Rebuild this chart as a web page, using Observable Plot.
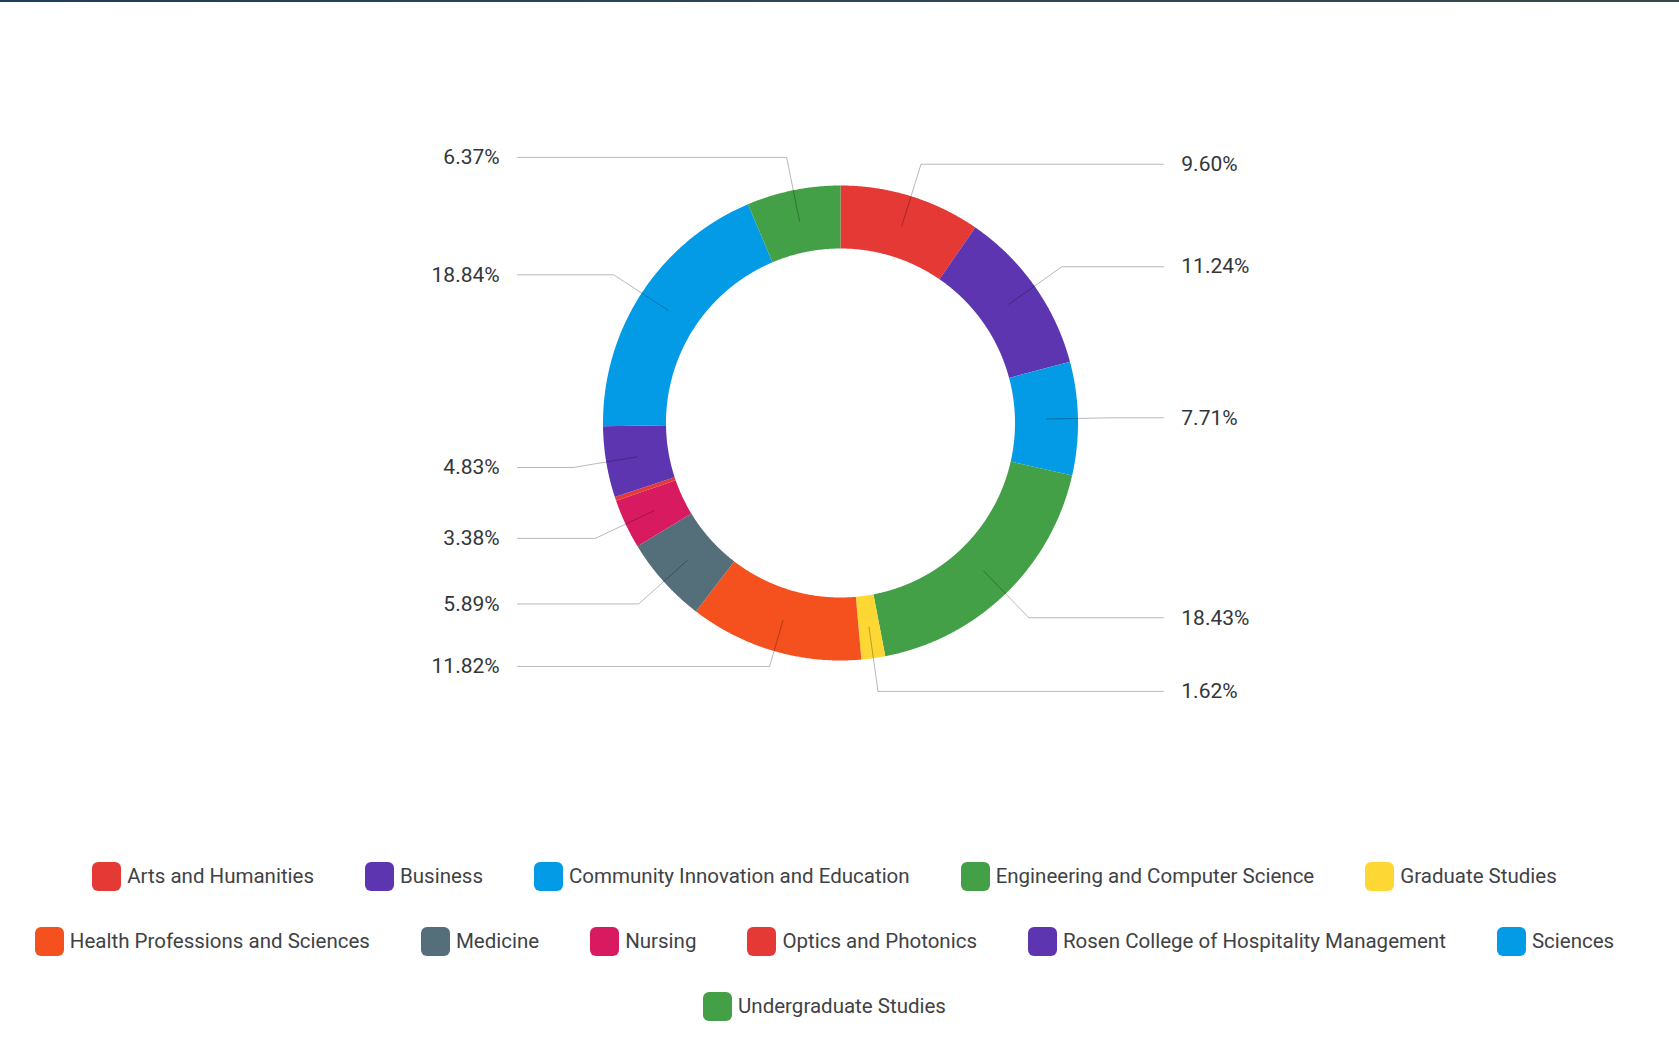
<!DOCTYPE html>
<html>
<head>
<meta charset="utf-8">
<script src="https://cdn.jsdelivr.net/npm/d3@7"></script>
<script src="https://cdn.jsdelivr.net/npm/@observablehq/plot@0.6"></script>
<style>
  html, body { margin: 0; padding: 0; background: #fff; }
  body { width: 1679px; height: 1038px; overflow: hidden; font-family: Roboto, "Noto Sans", sans-serif; }
  #topbar { height: 2px; background: linear-gradient(to right, #1b3f5e, #2f4657 50%, #37474f); }
  #chart svg { display: block; }
  #legend { width: 1649px; padding-top: 2px; }
  .row { height: 65px; display: flex; justify-content: center; align-items: center; gap: 51px; white-space: nowrap; }
  .item { display: flex; align-items: center; }
  .sw { width: 29px; height: 29px; border-radius: 6px; margin-right: 6px; }
  .lab { font-size: 20.5px; color: #3f4245; line-height: 1; }
</style>
</head>
<body>
<div id="topbar"></div>
<div id="chart"></div>
<div id="legend"></div>
<script>
// ---- data ----
const categories = [
  "Arts and Humanities",
  "Business",
  "Community Innovation and Education",
  "Engineering and Computer Science",
  "Graduate Studies",
  "Health Professions and Sciences",
  "Medicine",
  "Nursing",
  "Optics and Photonics",
  "Rosen College of Hospitality Management",
  "Sciences",
  "Undergraduate Studies"
];
const shares = [9.60, 11.24, 7.71, 18.43, 1.62, 11.82, 5.89, 3.38, 0.27, 4.83, 18.84, 6.37];
const colors = ["#e53935", "#5e35b1", "#039be5", "#43a047", "#fdd835", "#f4511e", "#546e7a", "#d81b60", "#e53935", "#5e35b1", "#039be5", "#43a047"];
const legendRows = [[0, 1, 2, 3, 4], [5, 6, 7, 8, 9, 10], [11]];

// ---- layout constants ----
const W = 1679, H = 840;
const CX = 840, CY = 420.5;        // donut centre in px
const R = 237.5;                   // outer radius px
const inner = 174.5 / R;           // inner radius (unit of outer)
const rLine0 = 0.867, rElbow = 1.141, lineEnd = 1.36, textX = 1.435;
const leftFloor = -1.025;          // lowest elbow on the left side (unit of outer radius)

// ---- geometry from data ----
const total = d3.sum(shares);
let acc = 0;
const slices = shares.map((v, i) => {
  const a0 = acc / total * 2 * Math.PI;
  acc += v;
  const a1 = acc / total * 2 * Math.PI;
  return {name: categories[i], value: v, a0, a1};
});

const ringPts = [];
for (const s of slices) {
  const n = Math.max(4, Math.ceil((s.a1 - s.a0) / 0.005));
  for (let k = 0; k <= n; k++) {
    const a = s.a0 + (s.a1 - s.a0) * k / n;
    ringPts.push({name: s.name, x: Math.sin(a), y: Math.cos(a)});
  }
  for (let k = n; k >= 0; k--) {
    const a = s.a0 + (s.a1 - s.a0) * k / n;
    ringPts.push({name: s.name, x: inner * Math.sin(a), y: inner * Math.cos(a)});
  }
}

const labelled = slices.filter(s => s.value >= 1);
const leaderPts = [];
const labels = [];
for (const s of labelled) {
  const m = (s.a0 + s.a1) / 2;
  const side = Math.sin(m) >= 0 ? 1 : -1;
  let ex = rElbow * Math.sin(m), ey = rElbow * Math.cos(m);
  if (side < 0 && ey < leftFloor) { ex = ex * leftFloor / ey; ey = leftFloor; }
  leaderPts.push({name: s.name, x: rLine0 * Math.sin(m), y: rLine0 * Math.cos(m)});
  leaderPts.push({name: s.name, x: ex, y: ey});
  leaderPts.push({name: s.name, x: side * lineEnd, y: ey});
  labels.push({name: s.name, x: side * textX, y: ey, side, text: s.value.toFixed(2) + "%"});
}

const chart = Plot.plot({
  width: W, height: H,
  margin: 0,
  style: {fontFamily: "Roboto, sans-serif", background: "transparent"},
  x: {domain: [-CX / R, (W - CX) / R], axis: null},
  y: {domain: [-(H - CY) / R, CY / R], axis: null},
  color: {domain: categories, range: colors},
  marks: [
    Plot.line(ringPts, {x: "x", y: "y", z: "name", fill: "name", stroke: null, curve: "linear-closed"}),
    Plot.line(leaderPts, {x: "x", y: "y", z: "name", stroke: "#000", strokeOpacity: 0.28, strokeWidth: 1}),
    Plot.text(labels.filter(d => d.side > 0), {x: "x", y: "y", text: "text", textAnchor: "start", fontSize: 21, fill: "#32363a"}),
    Plot.text(labels.filter(d => d.side < 0), {x: "x", y: "y", text: "text", textAnchor: "end", fontSize: 21, fill: "#32363a"})
  ]
});
document.getElementById("chart").appendChild(chart);

// ---- legend ----
const legend = document.getElementById("legend");
for (const row of legendRows) {
  const r = document.createElement("div");
  r.className = "row";
  for (const i of row) {
    const it = document.createElement("div");
    it.className = "item";
    const sw = document.createElement("div");
    sw.className = "sw";
    sw.style.background = chart.scale("color").apply(categories[i]);
    const lb = document.createElement("span");
    lb.className = "lab";
    lb.textContent = categories[i];
    it.appendChild(sw); it.appendChild(lb);
    r.appendChild(it);
  }
  legend.appendChild(r);
}
</script>
</body>
</html>
